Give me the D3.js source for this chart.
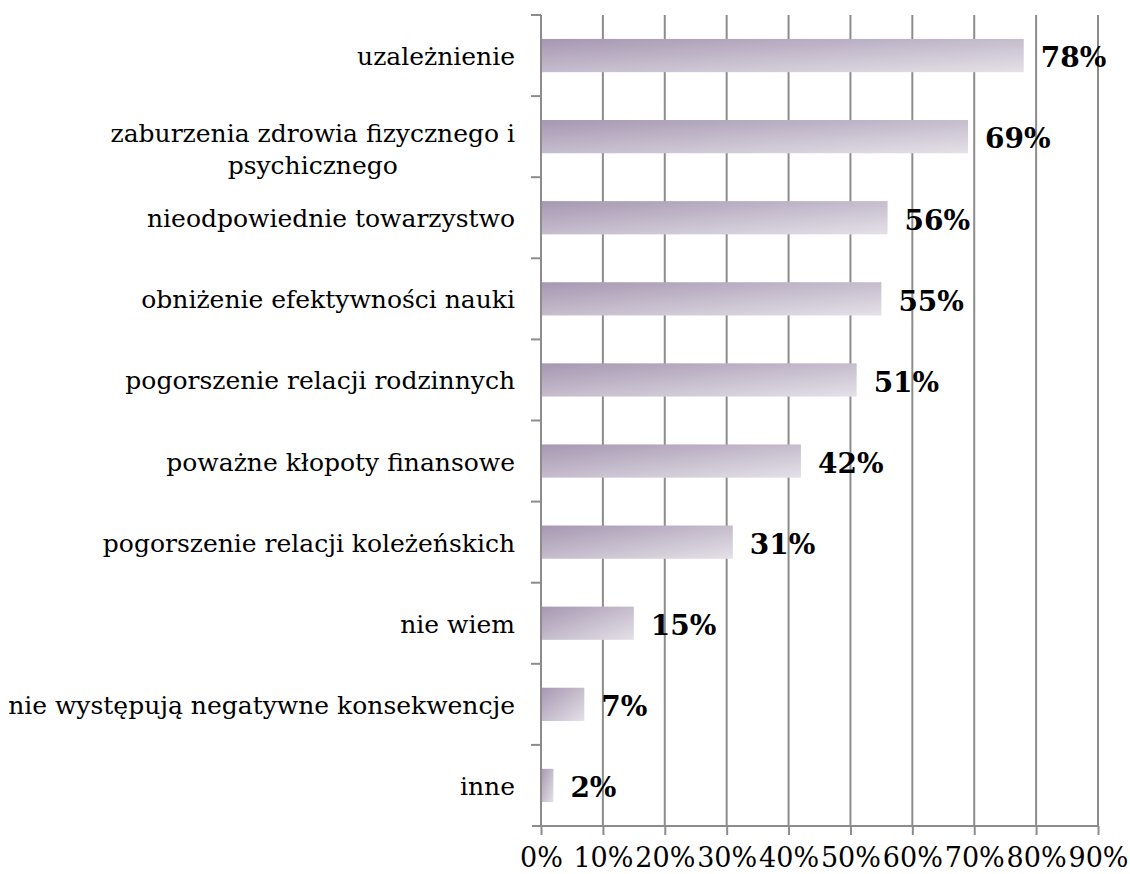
<!DOCTYPE html>
<html><head><meta charset="utf-8">
<script src="https://cdn.jsdelivr.net/npm/d3@7"></script>
<style>body{margin:0;background:#fff;} svg{display:block;}</style>
</head><body>
<svg id="chart" width="1130" height="874"></svg>
<script>
const categories = [
  ["uzależnienie"],
  ["zaburzenia zdrowia fizycznego i", "psychicznego"],
  ["nieodpowiednie towarzystwo"],
  ["obniżenie efektywności nauki"],
  ["pogorszenie relacji rodzinnych"],
  ["poważne kłopoty finansowe"],
  ["pogorszenie relacji koleżeńskich"],
  ["nie wiem"],
  ["nie występują negatywne konsekwencje"],
  ["inne"]
];
const values = [78, 69, 56, 55, 51, 42, 31, 15, 7, 2];
const tickValues = [0, 10, 20, 30, 40, 50, 60, 70, 80, 90];

(function () {
const svg = d3.select("#chart");
const font = "'DejaVu Serif', 'Liberation Serif', serif";
const pLeft = 541, pRight = 1098, pTop = 15, pBottom = 826;
const axisColor = "#8c8c8c";

const x = d3.scaleLinear().domain([0, 90]).range([pLeft, pRight]);
const y = d3.scaleBand().domain(d3.range(categories.length)).range([pTop, pBottom]).paddingInner(0.59).paddingOuter(0.295);
const yb = d3.scaleBand().domain(d3.range(categories.length)).range([pTop, pBottom]);

const defs = svg.append("defs");
const grad = defs.append("linearGradient").attr("id", "barGrad")
  .attr("x1", "0").attr("y1", "0").attr("x2", "1").attr("y2", "1");
grad.append("stop").attr("offset", "0%").attr("stop-color", "#a697b1");
grad.append("stop").attr("offset", "100%").attr("stop-color", "#e4e1e8");

svg.append("g").selectAll("line").data(tickValues.slice(1)).join("line")
  .attr("x1", d => x(d)).attr("x2", d => x(d))
  .attr("y1", pTop).attr("y2", pBottom)
  .attr("stroke", axisColor).attr("stroke-width", 2);

svg.append("g").selectAll("rect").data(values).join("rect")
  .attr("x", x(0)).attr("y", (d, i) => y(i))
  .attr("width", d => x(d) - x(0)).attr("height", y.bandwidth())
  .attr("fill", "url(#barGrad)");

const xAxis = d3.axisBottom(x).tickValues(tickValues).tickFormat(d => d + "%").tickSize(9).tickPadding(13);
const gx = svg.append("g").attr("transform", `translate(0,${pBottom})`).call(xAxis);
gx.select(".domain").attr("stroke", axisColor).attr("stroke-width", 2).attr("d", `M${pLeft - 9},0H${pRight}`);
gx.selectAll(".tick line").attr("stroke", axisColor).attr("stroke-width", 2);
gx.selectAll(".tick text").attr("fill", "#000").style("font-family", font).style("font-size", "27px");

const gy = svg.append("g");
gy.append("line").attr("x1", pLeft).attr("x2", pLeft).attr("y1", pTop).attr("y2", pBottom)
  .attr("stroke", axisColor).attr("stroke-width", 2);
gy.selectAll("line.tk").data(d3.range(categories.length)).join("line").attr("class", "tk")
  .attr("x1", pLeft - 10).attr("x2", pLeft).attr("y1", i => yb(i)).attr("y2", i => yb(i))
  .attr("stroke", axisColor).attr("stroke-width", 2);

const lab = svg.append("g").selectAll("text").data(categories).join("text")
  .style("font-family", font).style("font-size", "25px").attr("fill", "#000")
  .attr("text-anchor", "end")
  .attr("x", 515)
  .attr("y", (d, i) => yb(i) + yb.bandwidth() / 2);
lab.each(function (lines) {
  const t = d3.select(this);
  if (lines.length === 1) {
    t.append("tspan").attr("x", 515).attr("dy", "0.38em").text(lines[0]);
  } else {
    const tmp = t.append("tspan").text(lines[0]);
    const w = tmp.node().getComputedTextLength();
    tmp.remove();
    const cx = 515 - w / 2;
    t.attr("text-anchor", "middle");
    lines.forEach((ln, k) => {
      t.append("tspan").attr("x", cx).attr("dy", k === 0 ? "0.2em" : "1.28em").text(ln);
    });
  }
});

svg.append("g").selectAll("text").data(values).join("text")
  .attr("x", d => x(d) + 17).attr("y", (d, i) => y(i) + y.bandwidth() / 2)
  .attr("dy", "0.42em")
  .style("font-family", font).style("font-size", "28px").style("font-weight", "bold")
  .attr("fill", "#000").text(d => d + "%");
})();
</script>
</body></html>
